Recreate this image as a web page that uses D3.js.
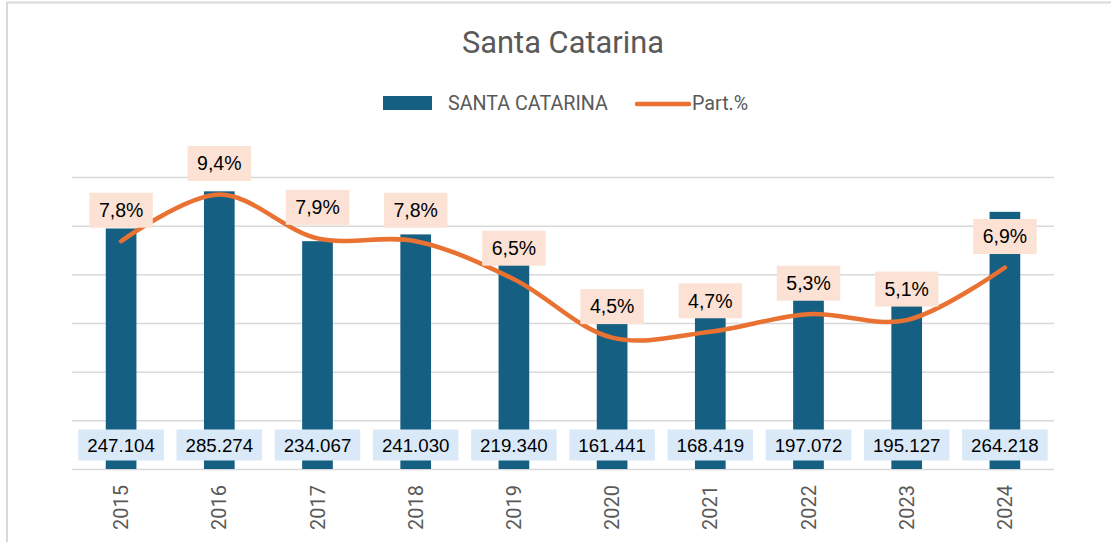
<!DOCTYPE html>
<html>
<head>
<meta charset="utf-8">
<script src="https://cdn.jsdelivr.net/npm/d3@7"></script>
<style>
  html, body { margin: 0; padding: 0; background: #fff; }
  svg { display: block; }
</style>
</head>
<body>
<svg id="chart" width="1111" height="542"></svg>
<script>
const years = ['2015','2016','2017','2018','2019','2020','2021','2022','2023','2024'];
const values = [247104, 285274, 234067, 241030, 219340, 161441, 168419, 197072, 195127, 264218];
const pct = [7.8, 9.4, 7.9, 7.8, 6.5, 4.5, 4.7, 5.3, 5.1, 6.9];
const yTicks = [0, 50000, 100000, 150000, 200000, 250000, 300000];
const titleText = 'Santa Catarina';
const seriesBarName = 'SANTA CATARINA';
const seriesLineName = 'Part.%';

const barColor = '#156082';
const lineColor = '#E97132';
const gridColor = '#d9d9d9';
const textGray = '#595959';

const ptLocale = d3.formatLocale({decimal: ',', thousands: '.', grouping: [3], currency: ['R$', '']});
const fmtInt = ptLocale.format(',d');
const fmtPct = ptLocale.format('.1f');

const svg = d3.select('#chart');

// outer frame
svg.append('rect')
  .attr('x', 7).attr('y', 2.5)
  .attr('width', 1200).attr('height', 700)
  .attr('fill', '#fff')
  .attr('stroke', gridColor).attr('stroke-width', 2);

const x = d3.scaleBand().domain(years).range([72, 1054]).paddingInner(0.6875).paddingOuter(0.34375);
const y = d3.scaleLinear().domain([0, 300000]).range([469, 177]);
const y2 = d3.scaleLinear().domain([0, 0.10]).range([469, 177]);

// title
svg.append('text')
  .attr('x', 563).attr('y', 53)
  .attr('text-anchor', 'middle')
  .attr('font-family', 'Roboto, "Liberation Sans", Arial, sans-serif')
  .attr('font-size', 30.8)
  .attr('fill', textGray)
  .text(titleText);

// legend
const lg = svg.append('g');
lg.append('rect').attr('x', 383).attr('y', 96).attr('width', 49).attr('height', 14).attr('fill', barColor);
lg.append('text').attr('x', 448).attr('y', 109.5)
  .attr('font-family', 'Roboto, "Liberation Sans", Arial, sans-serif')
  .attr('font-size', 19.7).attr('fill', textGray).text(seriesBarName);
lg.append('line').attr('x1', 637).attr('x2', 689).attr('y1', 104).attr('y2', 104)
  .attr('stroke', lineColor).attr('stroke-width', 4.5).attr('stroke-linecap', 'round');
lg.append('text').attr('x', 692).attr('y', 109.5)
  .attr('font-family', 'Roboto, "Liberation Sans", Arial, sans-serif')
  .attr('font-size', 19.7).attr('fill', textGray).text(seriesLineName);

// gridlines
const grid = d3.axisLeft(y).tickValues(yTicks).tickSize(-(1054 - 72)).tickFormat('');
const gg = svg.append('g').attr('transform', 'translate(72,0)').call(grid);
gg.select('.domain').remove();
gg.selectAll('.tick line').attr('stroke', gridColor).attr('stroke-width', 1.5);

// bars
svg.append('g').selectAll('rect')
  .data(values)
  .join('rect')
  .attr('x', (d, i) => x(years[i]))
  .attr('width', x.bandwidth())
  .attr('y', d => y(d))
  .attr('height', d => y(0) - y(d))
  .attr('fill', barColor);

// x axis labels
const xAxis = d3.axisBottom(x).tickSize(0).tickPadding(0);
const xg = svg.append('g').attr('transform', 'translate(0,469)').call(xAxis);
xg.select('.domain').remove();
xg.selectAll('.tick text')
  .attr('transform', 'translate(0,16) rotate(-90)')
  .attr('x', 0).attr('y', 0).attr('dy', '0.35em')
  .attr('text-anchor', 'end')
  .attr('font-family', 'Roboto, "Liberation Sans", Arial, sans-serif')
  .attr('font-size', 20)
  .attr('fill', textGray);

// line
const line = d3.line()
  .x((d, i) => x(years[i]) + x.bandwidth() / 2)
  .y(d => y2(d / 100))
  .curve(d3.curveCatmullRom.alpha(0.5));
svg.append('path')
  .datum(pct)
  .attr('d', line)
  .attr('fill', 'none')
  .attr('stroke', lineColor)
  .attr('stroke-width', 4.5)
  .attr('stroke-linecap', 'round')
  .attr('stroke-linejoin', 'round');

// value labels
const vl = svg.append('g').selectAll('g').data(values).join('g')
  .attr('transform', (d, i) => `translate(${x(years[i]) + x.bandwidth() / 2},445)`);
vl.append('text')
  .attr('text-anchor', 'middle').attr('dy', '0.35em')
  .attr('font-family', '"Liberation Sans", Arial, sans-serif')
  .attr('font-size', 18.7).attr('fill', '#000')
  .text(d => fmtInt(d));
vl.each(function() {
  const g = d3.select(this);
  const w = g.select('text').node().getComputedTextLength() + 18;
  g.insert('rect', 'text').attr('x', -w / 2).attr('y', -15.5).attr('width', w).attr('height', 31).attr('fill', '#DAE9F8');
});

// pct labels
const pl = svg.append('g').selectAll('g').data(pct).join('g')
  .attr('transform', (d, i) => `translate(${x(years[i]) + x.bandwidth() / 2},${y2(d / 100) - 31})`);
pl.append('text')
  .attr('text-anchor', 'middle').attr('dy', '0.35em')
  .attr('font-family', '"Liberation Sans", Arial, sans-serif')
  .attr('font-size', 19.5).attr('fill', '#000')
  .text(d => fmtPct(d) + '%');
pl.each(function() {
  const g = d3.select(this);
  const w = g.select('text').node().getComputedTextLength() + 19;
  g.insert('rect', 'text').attr('x', -w / 2).attr('y', -17.5).attr('width', w).attr('height', 35).attr('fill', '#FBE2D5');
});
</script>
</body>
</html>
